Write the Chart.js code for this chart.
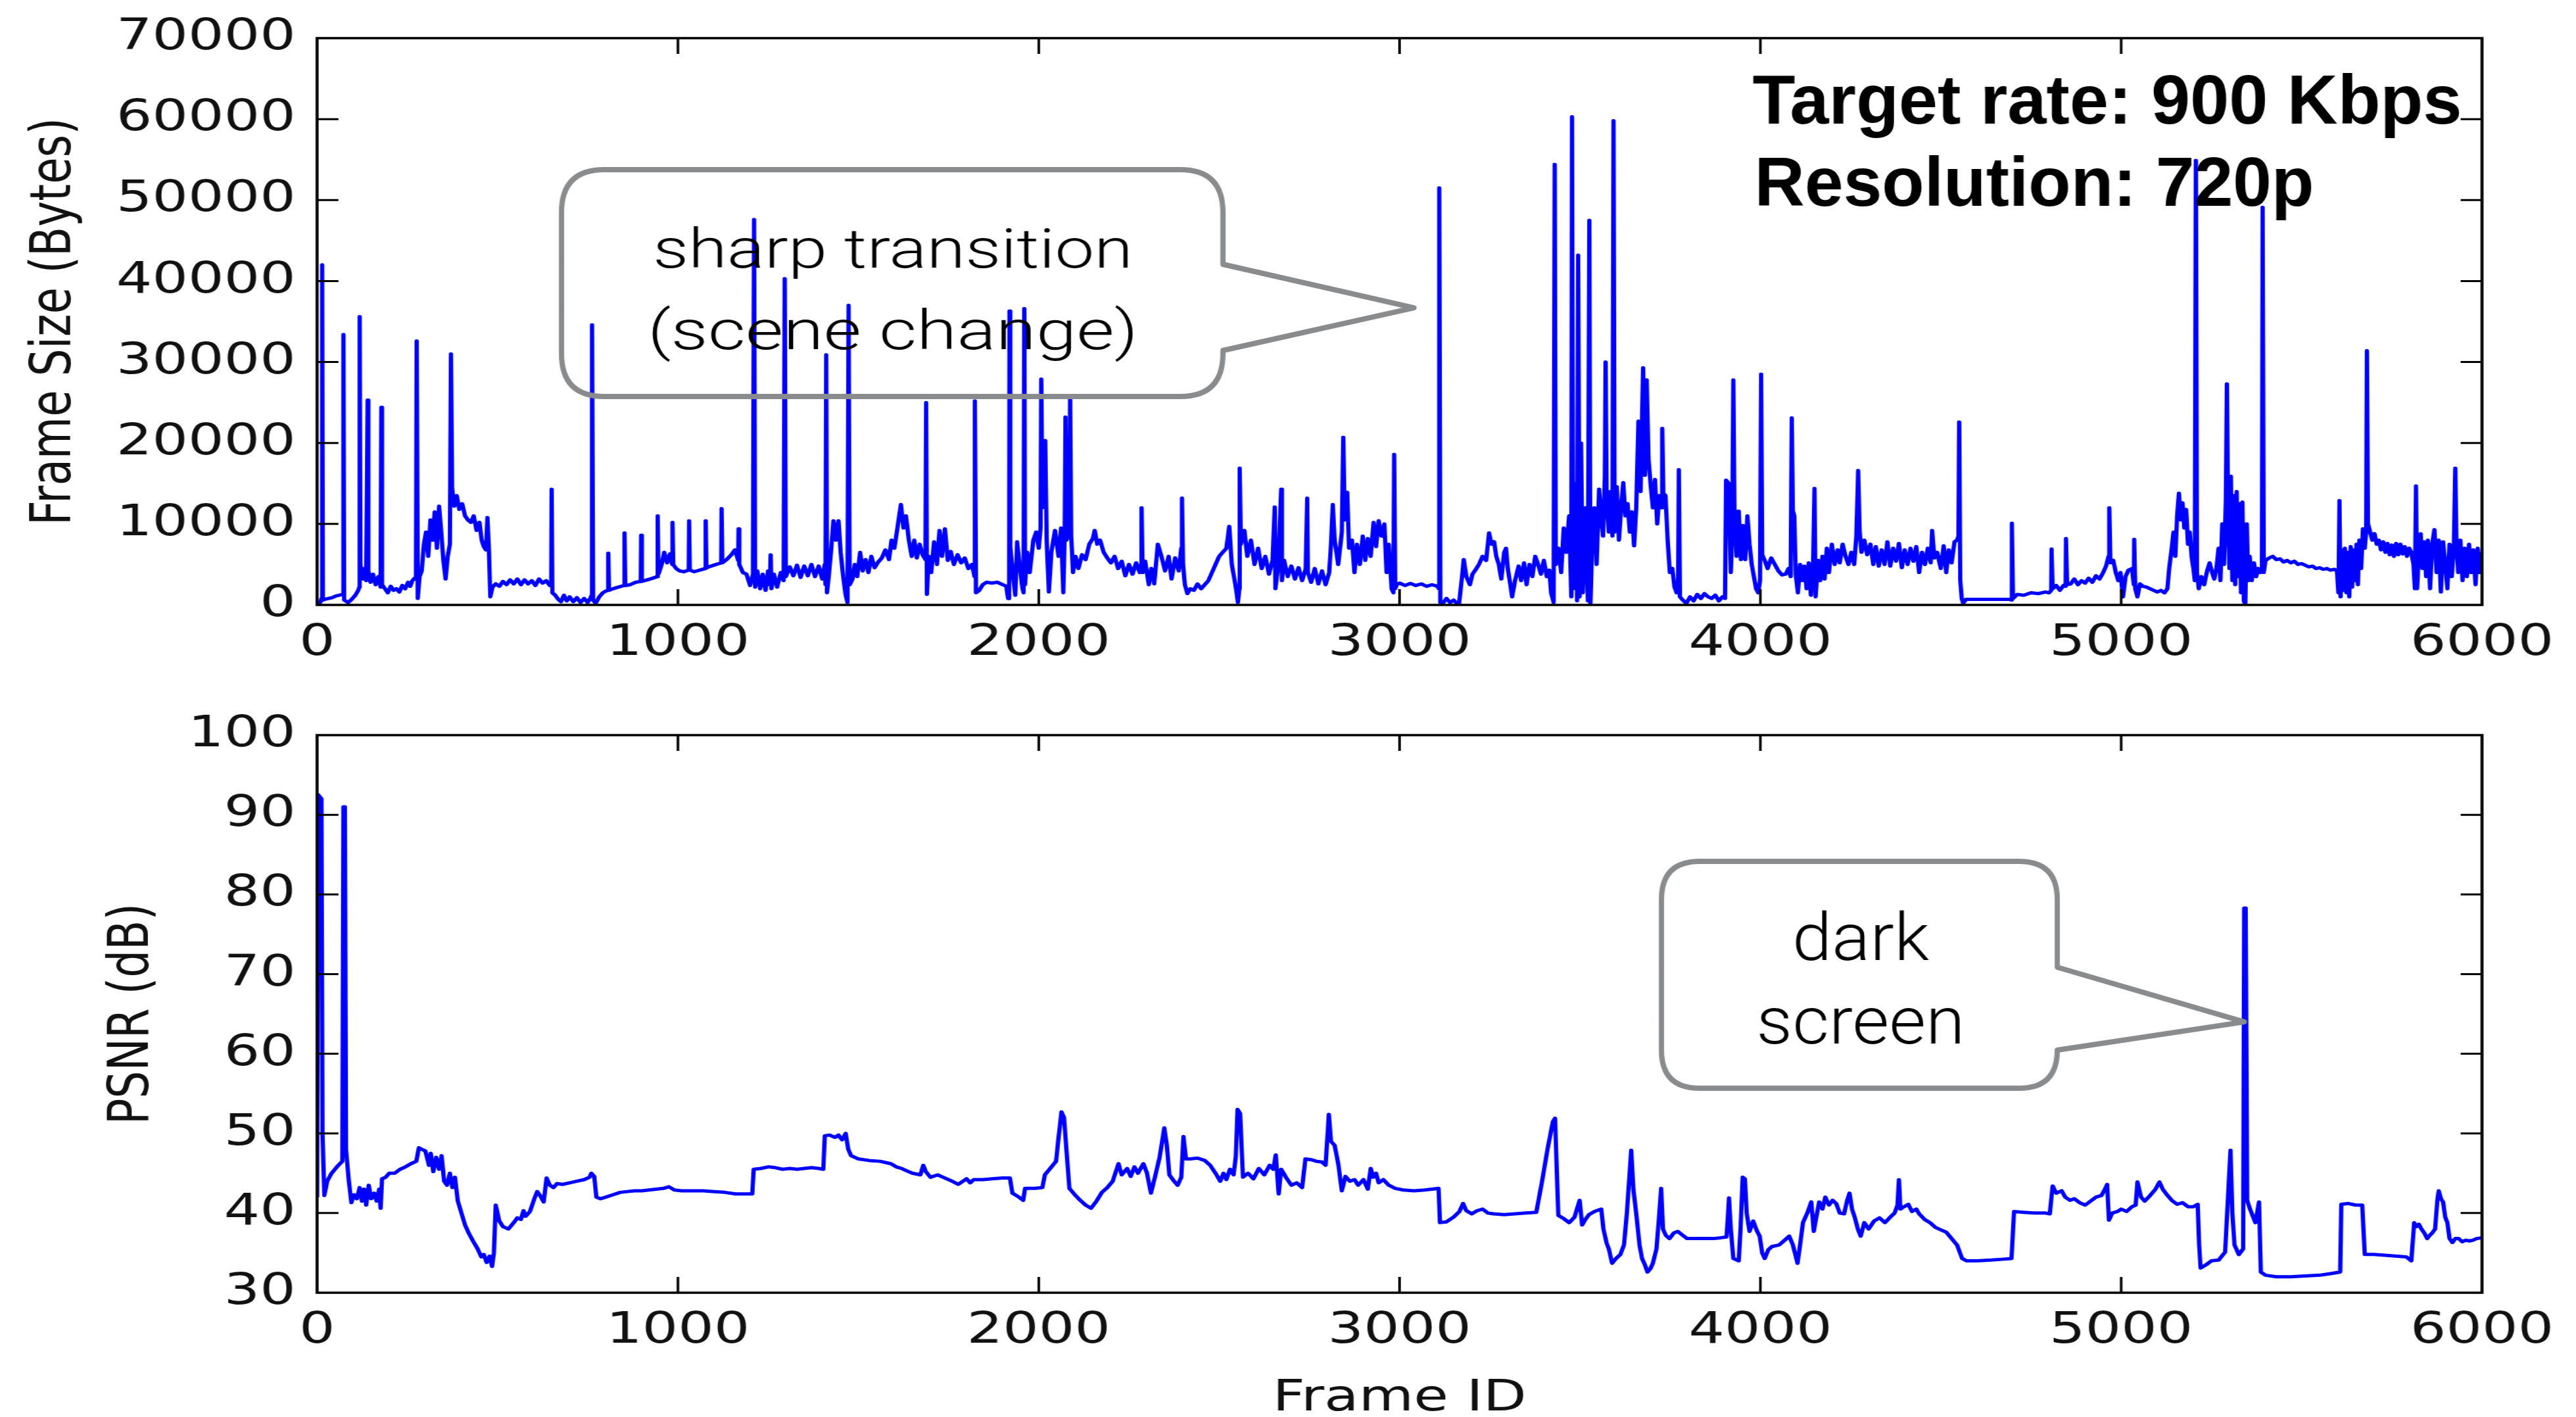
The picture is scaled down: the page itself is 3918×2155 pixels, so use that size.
<!DOCTYPE html>
<html lang="en">
<head>
<meta charset="UTF-8">
<title>Frame size and PSNR per frame</title>
<script src="https://cdn.jsdelivr.net/npm/chart.js"></script>
<style>
    body {
        margin: 0;
        background: #fff;
        width: 3918px;
        height: 2155px;
        overflow: hidden;
        position: relative;
    }
    canvas {
        position: absolute;
        left: 0;
    }
</style>
</head>
<body>
<canvas id="sizeChart" width="3014" height="1060" style="top:0;width:3918px;height:1060px"></canvas>
<canvas id="psnrChart" width="3014" height="1095" style="top:1060px;width:3918px;height:1095px"></canvas>
<script>
// [frame id, frame size in bytes]
const sizeSeries = [
    [0,300],[6,200],[10,400],[12,800],[14,42000],[16,600],[22,700],[32,800],[42,900],[52,1100],[62,1200],[70,1300],
    [72,1300],[73,33400],[75,600],[86,300],[96,700],[106,1200],[114,1800],[117,2200],[118,35600],[120,5000],
    [126,3200],[132,4500],[136,3000],[140,25300],[142,4200],[148,2800],[155,3800],[162,2500],[170,3500],[176,2200],
    [178,24400],[180,2500],[188,2000],[196,1500],[204,2300],[212,1800],[220,2000],[228,1600],[236,2400],[244,2000],
    [252,2800],[258,2300],[264,3000],[270,3300],[274,3200],[276,32600],[279,800],[284,3500],[290,4200],[296,7500],
    [302,9000],[308,6000],[314,10500],[320,8000],[326,11500],[332,7000],[338,12200],[344,9000],[350,5500],[356,3200],
    [362,6000],[368,7500],[371,31000],[374,14500],[380,12200],[387,13500],[394,11800],[402,12500],[410,11000],
    [418,10500],[426,10200],[434,11000],[442,9200],[450,10200],[456,8000],[462,7200],[468,6800],[472,10800],
    [476,7000],[480,1000],[486,2200],[495,2600],[505,2300],[515,2900],[525,2500],[535,3100],[545,2600],[555,3200],
    [565,2500],[575,3100],[585,2600],[595,3000],[605,2400],[615,3200],[625,2700],[635,3000],[645,2400],[649,2600],
    [650,14300],[652,1500],[660,1200],[668,700],[676,400],[684,1200],[692,500],[700,1000],[710,400],[720,900],
    [730,300],[740,800],[750,300],[758,900],[761,1200],[762,34600],[765,600],[772,200],[782,1000],[792,1500],
    [800,1700],[806,1800],[807,6400],[809,1800],[820,2000],[835,2200],[851,2400],[852,8900],[854,2400],[868,2500],
    [883,2800],[897,2900],[898,8600],[900,2900],[915,3100],[930,3300],[943,3500],[944,11000],[946,3800],[955,5000],
    [962,6500],[970,5200],[978,6300],[984,5000],[985,10200],[987,5000],[995,4500],[1005,4200],[1017,4100],
    [1030,4300],[1031,10400],[1033,4300],[1045,4100],[1060,4300],[1076,4500],[1077,10400],[1079,4600],[1092,4800],
    [1106,5000],[1120,5200],[1121,11900],[1123,5200],[1135,5600],[1148,6200],[1158,6800],[1167,5500],[1168,9400],
    [1170,5000],[1180,4000],[1190,3800],[1200,2400],[1208,3800],[1211,47600],[1214,2200],[1220,4200],[1228,2000],
    [1235,3800],[1243,1800],[1250,4200],[1255,2500],[1257,6200],[1259,2000],[1266,3800],[1275,2200],[1285,4000],
    [1293,3000],[1296,40300],[1299,3500],[1310,4700],[1320,3600],[1330,4900],[1340,3400],[1350,4800],[1360,3600],
    [1370,5000],[1380,3500],[1390,4800],[1400,3200],[1407,5000],[1409,2500],[1411,30900],[1413,1500],[1418,3500],
    [1425,7000],[1431,10400],[1438,8000],[1445,10400],[1451,6500],[1458,3500],[1465,1200],[1470,300],[1473,37000],
    [1476,2500],[1484,3200],[1490,5000],[1497,3500],[1505,6500],[1512,4200],[1520,5600],[1528,4000],[1536,6000],
    [1545,4600],[1555,5300],[1565,5800],[1575,6800],[1585,5600],[1592,8000],[1600,7000],[1610,10000],[1618,12400],
    [1625,9500],[1632,11000],[1640,8000],[1648,6000],[1655,8000],[1662,5800],[1670,7500],[1678,6200],[1686,5600],
    [1688,25000],[1690,1300],[1695,6000],[1702,4000],[1710,7800],[1718,5000],[1725,9200],[1732,6000],[1740,9400],
    [1748,5500],[1756,6600],[1765,5000],[1775,6200],[1785,5200],[1795,5800],[1805,4500],[1815,5000],[1822,3500],
    [1823,25200],[1826,1500],[1835,1800],[1845,2500],[1855,2800],[1870,2700],[1885,2800],[1900,2500],[1910,2300],
    [1915,800],[1918,800],[1919,36300],[1921,7200],[1928,4000],[1935,1200],[1940,7800],[1948,4500],[1955,2000],
    [1958,1500],[1960,36600],[1962,2500],[1968,6500],[1975,4000],[1985,8000],[1993,9000],[2000,7000],[2005,9500],
    [2007,27900],[2010,12000],[2018,20300],[2022,8000],[2028,1600],[2035,6500],[2045,9200],[2055,6000],[2062,9500],
    [2068,1500],[2072,9000],[2074,23200],[2077,8000],[2085,9000],[2087,25800],[2090,8500],[2095,4000],[2102,6000],
    [2110,4500],[2120,6200],[2130,5600],[2140,7500],[2150,8200],[2155,9200],[2162,7500],[2170,8000],[2180,6500],
    [2190,5800],[2200,5200],[2210,6000],[2220,4500],[2230,5400],[2240,3600],[2250,5000],[2260,3800],[2270,5200],
    [2280,4000],[2284,5000],[2285,12000],[2288,4000],[2295,5400],[2305,2500],[2312,4500],[2320,2600],[2330,7500],
    [2340,6000],[2350,4200],[2360,6000],[2368,3200],[2378,5800],[2388,4200],[2395,7000],[2397,13200],[2400,5000],
    [2405,2500],[2412,1400],[2420,2000],[2430,1800],[2440,2600],[2450,2000],[2460,2500],[2470,3000],[2480,4000],
    [2490,5000],[2500,6000],[2510,6500],[2520,7000],[2528,9700],[2535,5000],[2545,2500],[2552,300],[2556,2000],
    [2557,16900],[2560,7500],[2570,9200],[2578,6000],[2588,8000],[2598,5000],[2608,7000],[2618,4500],[2628,6000],
    [2638,3800],[2648,5500],[2654,12100],[2656,2000],[2664,5000],[2672,14300],[2674,3000],[2680,5500],[2690,3500],
    [2700,4800],[2710,3200],[2720,4600],[2730,3000],[2740,4500],[2744,13200],[2746,4000],[2755,2800],[2765,4500],
    [2775,2600],[2785,4200],[2795,2500],[2805,4000],[2810,7500],[2815,12400],[2820,8000],[2830,5000],[2840,9000],
    [2844,20700],[2848,10500],[2855,13900],[2860,7000],[2868,8000],[2875,4000],[2882,7500],[2890,5000],[2898,8500],
    [2905,5500],[2912,8200],[2920,6000],[2928,10200],[2935,7200],[2942,10400],[2950,8500],[2958,10000],[2964,4000],
    [2970,7500],[2978,2000],[2983,1500],[2985,18600],[2988,2000],[2992,2500],[3000,2700],[3015,2400],[3030,2650],
    [3045,2400],[3060,2600],[3075,2300],[3090,2500],[3105,2300],[3109,2000],[3110,51500],[3113,300],[3120,200],
    [3130,800],[3140,300],[3150,600],[3160,100],[3165,200],[3172,3000],[3178,5600],[3185,3500],[3195,2500],
    [3202,3800],[3210,4300],[3220,5000],[3230,6000],[3240,5500],[3248,8900],[3255,7500],[3262,7800],[3268,6000],
    [3275,5000],[3282,3200],[3290,6500],[3295,7000],[3300,4500],[3307,2500],[3312,1000],[3320,3000],[3330,4800],
    [3337,3000],[3345,5200],[3352,2500],[3360,5000],[3368,3500],[3376,6000],[3384,5000],[3392,3800],[3400,5500],
    [3408,3500],[3415,4300],[3420,1500],[3427,300],[3430,54400],[3433,5000],[3440,7000],[3448,4000],[3455,9500],
    [3462,6500],[3470,11000],[3476,1000],[3478,60300],[3481,2000],[3488,15000],[3492,500],[3495,43200],[3499,1000],
    [3503,20000],[3508,1500],[3515,12000],[3522,500],[3526,47500],[3529,100],[3534,8000],[3540,12000],[3546,5000],
    [3553,14300],[3558,11000],[3564,8500],[3569,16000],[3571,30000],[3574,13000],[3580,9000],[3585,14000],
    [3590,8500],[3593,59800],[3596,9000],[3602,14600],[3608,8000],[3614,12000],[3620,15100],[3626,11000],
    [3632,12500],[3638,9000],[3644,11500],[3650,7300],[3656,12000],[3662,22700],[3668,14000],[3675,29300],
    [3680,16000],[3685,27800],[3690,18000],[3696,14800],[3702,12000],[3708,15500],[3714,10000],[3720,13500],
    [3726,12000],[3728,21800],[3731,13800],[3737,13500],[3743,8000],[3749,4000],[3756,4500],[3762,2200],[3768,1500],
    [3772,2000],[3774,16700],[3777,1000],[3785,600],[3795,200],[3805,1000],[3815,500],[3825,1300],[3835,800],
    [3845,1400],[3855,1000],[3865,800],[3875,1200],[3885,500],[3895,1000],[3902,800],[3905,15400],[3912,15000],
    [3918,4000],[3922,9000],[3925,27800],[3928,12000],[3934,6000],[3940,11600],[3946,5600],[3952,9800],[3958,5600],
    [3964,11000],[3970,7500],[3976,5000],[3982,3500],[3988,2000],[3994,1500],[3999,3000],[4002,28500],[4005,6200],
    [4012,5500],[4020,4500],[4030,5800],[4040,5000],[4050,4200],[4060,3700],[4070,3800],[4078,4500],[4084,3500],
    [4087,23100],[4090,11600],[4094,11000],[4098,3800],[4104,1500],[4110,5000],[4116,3000],[4122,4800],[4128,2000],
    [4134,5200],[4140,1200],[4146,4500],[4150,14400],[4153,1000],[4160,5500],[4166,3000],[4172,6000],[4178,3200],
    [4184,7000],[4190,4000],[4198,7500],[4206,5000],[4214,6800],[4220,5200],[4228,7500],[4236,6000],[4244,5000],
    [4252,6500],[4260,5000],[4266,8500],[4271,16600],[4275,9200],[4280,6500],[4288,8000],[4296,6200],[4305,7500],
    [4313,5000],[4320,7200],[4328,4800],[4336,6800],[4344,5000],[4352,7800],[4360,4800],[4368,7000],[4376,5400],
    [4384,7600],[4392,4600],[4400,6800],[4408,5000],[4416,7000],[4424,5400],[4432,7200],[4440,4000],[4448,6500],
    [4456,5000],[4464,7000],[4472,5200],[4476,9200],[4482,5800],[4490,6500],[4500,4500],[4508,7300],[4515,4000],
    [4522,6800],[4530,5200],[4538,7800],[4545,8000],[4549,8500],[4551,22600],[4554,3000],[4558,800],[4562,200],
    [4570,700],[4600,700],[4640,700],[4670,700],[4690,700],[4696,600],[4697,10100],[4700,800],[4712,1300],
    [4730,1200],[4750,1500],[4770,1400],[4790,1600],[4800,1500],[4806,1800],[4807,6900],[4810,2000],[4820,2400],
    [4830,1800],[4840,2400],[4846,2300],[4847,8200],[4850,2500],[4860,2600],[4870,3200],[4880,2500],[4890,3000],
    [4900,2700],[4910,3300],[4920,2800],[4930,3600],[4940,3200],[4950,4000],[4958,4800],[4965,6000],[4967,12000],
    [4970,5200],[4978,5500],[4985,4000],[4992,3000],[4998,4000],[5005,1000],[5012,3500],[5020,4300],[5030,4500],
    [5035,2500],[5036,8100],[5039,2000],[5045,1000],[5052,2600],[5060,2300],[5070,2200],[5080,2000],[5090,1800],
    [5100,1600],[5110,1800],[5120,1500],[5128,2000],[5133,4500],[5140,7000],[5145,9000],[5150,6000],[5155,11000],
    [5160,13800],[5165,10500],[5170,12600],[5175,9500],[5180,11800],[5185,7500],[5190,9000],[5195,6000],[5200,4500],
    [5204,3000],[5207,54900],[5210,4000],[5215,2000],[5222,3500],[5230,2500],[5238,4200],[5245,5200],[5252,4000],
    [5258,3200],[5264,4600],[5270,7000],[5275,3000],[5280,10000],[5285,5000],[5290,13000],[5293,27300],[5296,12000],
    [5300,4500],[5304,15900],[5308,3000],[5312,13500],[5316,2500],[5320,14000],[5324,3500],[5328,12500],[5332,1500],
    [5336,12700],[5340,500],[5344,0],[5348,10000],[5352,3000],[5356,6000],[5362,3000],[5368,5200],[5374,3500],
    [5380,4500],[5386,4000],[5390,4300],[5392,49100],[5395,4000],[5400,5500],[5410,5800],[5420,6000],[5430,5600],
    [5440,5700],[5450,5300],[5460,5500],[5470,5200],[5480,5400],[5490,5000],[5500,5100],[5510,4900],[5520,4700],
    [5530,4800],[5540,4500],[5550,4600],[5560,4400],[5570,4500],[5580,4300],[5590,4400],[5598,4200],[5602,1500],
    [5605,12900],[5608,1000],[5612,6800],[5616,1800],[5620,7000],[5624,1500],[5628,6500],[5632,1000],[5636,7200],
    [5640,2200],[5644,6800],[5648,3000],[5652,7500],[5656,2500],[5660,8000],[5665,4500],[5670,9400],[5675,7000],
    [5679,9000],[5681,31400],[5684,10000],[5690,9000],[5696,8000],[5702,8800],[5708,7500],[5714,8000],[5720,6800],
    [5726,7800],[5732,6500],[5738,7600],[5744,6200],[5750,7400],[5756,6000],[5762,7600],[5768,6200],[5774,7500],
    [5780,6300],[5786,7200],[5792,6000],[5798,7000],[5804,6500],[5810,5000],[5814,2000],[5817,14700],[5820,2000],
    [5825,6500],[5830,8800],[5835,4500],[5840,7800],[5845,3500],[5850,8000],[5856,2000],[5862,7500],[5868,9300],
    [5874,4000],[5880,8000],[5886,1600],[5892,7800],[5898,5000],[5904,2000],[5910,7500],[5916,3500],[5922,7200],
    [5926,16900],[5929,7800],[5934,4000],[5940,8000],[5946,3000],[5952,7000],[5958,3500],[5964,7500],[5970,4000],
    [5976,6800],[5982,2500],[5988,7000],[5994,4000],[6000,6500]
];

// [frame id, PSNR in dB]
const psnrSeries = [
    [0,42.0],[3,92.5],[12,92.0],[15,50.0],[20,42.2],[28,44.0],[40,45.0],[55,45.8],[70,46.5],[73,91.0],[77,91.0],
    [80,48.0],[88,44.0],[95,41.3],[102,42.3],[110,41.8],[118,43.2],[124,41.5],[130,43.0],[136,41.0],[143,43.5],
    [150,41.8],[158,42.5],[165,41.5],[172,43.0],[176,40.6],[180,44.3],[190,44.5],[200,45.0],[215,45.0],[230,45.5],
    [245,45.8],[260,46.2],[275,46.5],[282,48.2],[290,48.0],[300,47.8],[310,46.0],[315,47.5],[322,45.2],[330,47.0],
    [338,45.5],[345,47.2],[352,44.0],[360,43.5],[368,45.0],[375,43.2],[382,44.5],[390,41.5],[400,40.0],[410,38.5],
    [420,37.5],[432,36.5],[445,35.5],[455,34.5],[462,34.8],[470,33.8],[478,34.6],[485,33.3],[490,35.0],[495,41.0],
    [505,39.0],[515,38.3],[530,38.0],[545,38.8],[555,39.4],[565,39.2],[572,40.3],[578,39.6],[590,40.2],[602,41.8],
    [610,42.7],[618,42.2],[628,41.4],[636,44.4],[645,43.5],[655,43.2],[665,43.7],[680,43.6],[700,43.8],[720,44.0],
    [740,44.2],[755,44.5],[760,45.0],[768,44.6],[774,42.0],[785,41.8],[800,42.0],[820,42.3],[840,42.6],[860,42.7],
    [880,42.8],[900,42.8],[920,42.9],[940,43.0],[960,43.1],[975,43.3],[990,42.9],[1010,42.8],[1040,42.8],
    [1070,42.8],[1100,42.7],[1130,42.6],[1160,42.4],[1190,42.4],[1206,42.4],[1210,45.5],[1230,45.6],[1250,45.8],
    [1270,45.7],[1290,45.5],[1310,45.6],[1330,45.5],[1350,45.6],[1370,45.7],[1390,45.6],[1403,45.5],[1407,49.7],
    [1420,49.8],[1435,49.5],[1445,49.8],[1455,49.2],[1465,50.0],[1472,48.0],[1480,47.2],[1500,46.8],[1530,46.6],
    [1560,46.5],[1590,46.2],[1605,45.8],[1620,45.6],[1634,45.3],[1650,45.0],[1672,44.8],[1680,46.0],[1687,45.2],
    [1700,44.5],[1720,44.8],[1740,44.4],[1760,44.0],[1777,43.6],[1790,44.0],[1800,44.3],[1810,43.8],[1820,44.2],
    [1845,44.2],[1870,44.3],[1900,44.4],[1920,44.4],[1927,42.5],[1945,42.0],[1957,41.6],[1962,43.1],[1990,43.1],
    [2010,43.2],[2017,44.8],[2030,45.5],[2048,46.5],[2055,49.5],[2063,52.7],[2070,52.0],[2080,46.0],[2085,43.1],
    [2100,42.3],[2115,41.6],[2130,41.0],[2145,40.6],[2160,41.5],[2175,42.6],[2190,43.2],[2205,44.0],[2221,46.2],
    [2230,44.8],[2245,45.6],[2255,44.6],[2265,45.8],[2275,45.0],[2290,46.2],[2300,45.0],[2311,42.5],[2322,44.5],
    [2335,47.0],[2348,50.7],[2355,48.5],[2362,44.8],[2375,44.0],[2385,43.5],[2395,44.5],[2401,49.6],[2408,46.8],
    [2420,46.8],[2440,46.9],[2460,46.6],[2475,46.0],[2490,45.0],[2503,44.0],[2512,45.0],[2520,44.2],[2530,45.5],
    [2540,44.8],[2546,47.0],[2551,53.0],[2558,52.5],[2566,44.5],[2580,45.0],[2595,44.3],[2610,45.6],[2625,44.8],
    [2640,46.0],[2650,45.5],[2657,47.3],[2665,42.4],[2672,45.5],[2685,44.5],[2700,43.5],[2715,43.8],[2730,43.2],
    [2739,46.8],[2755,46.7],[2770,46.5],[2785,46.4],[2795,46.0],[2804,52.4],[2810,49.0],[2820,48.5],[2830,46.2],
    [2840,42.8],[2850,44.6],[2862,44.0],[2875,44.2],[2885,43.5],[2900,44.2],[2912,43.0],[2920,45.6],[2927,44.5],
    [2935,45.0],[2942,43.8],[2955,44.2],[2970,43.5],[2988,43.1],[3010,42.9],[3040,42.8],[3070,42.9],[3090,43.0],
    [3108,43.1],[3112,38.8],[3130,38.9],[3150,39.5],[3166,40.2],[3176,41.2],[3185,40.3],[3200,39.9],[3215,40.3],
    [3230,40.5],[3245,40.0],[3260,39.9],[3290,39.8],[3320,39.9],[3350,40.0],[3379,40.1],[3395,44.0],[3410,48.0],
    [3425,51.5],[3431,51.9],[3436,45.0],[3440,39.7],[3455,39.3],[3470,38.8],[3485,39.5],[3499,41.6],[3506,38.5],
    [3515,39.2],[3525,39.8],[3540,40.2],[3559,40.5],[3565,38.0],[3574,36.2],[3580,35.5],[3589,33.7],[3600,34.3],
    [3612,34.8],[3622,36.0],[3630,40.0],[3642,47.9],[3648,43.0],[3656,39.9],[3665,36.0],[3672,34.3],[3680,33.5],
    [3687,32.6],[3695,33.0],[3702,33.7],[3712,35.5],[3720,40.0],[3725,43.1],[3730,38.0],[3738,37.2],[3748,36.8],
    [3760,37.5],[3771,37.7],[3785,37.2],[3797,36.8],[3815,36.8],[3842,36.8],[3870,36.8],[3890,36.9],[3906,37.0],
    [3910,39.5],[3913,41.9],[3918,38.0],[3925,34.3],[3940,34.0],[3945,38.0],[3951,44.5],[3957,44.3],[3962,40.0],
    [3970,37.7],[3980,39.0],[3990,37.8],[3998,37.1],[4005,35.0],[4012,34.3],[4022,35.4],[4032,35.8],[4052,36.0],
    [4065,36.5],[4080,37.1],[4090,36.0],[4103,33.7],[4110,36.0],[4118,38.8],[4130,40.0],[4141,41.4],[4148,37.7],
    [4155,39.5],[4163,41.4],[4172,40.5],[4180,42.0],[4190,41.0],[4200,41.6],[4210,41.2],[4220,40.0],[4232,39.9],
    [4240,41.5],[4247,42.5],[4254,40.5],[4262,39.4],[4270,38.0],[4278,37.1],[4288,38.8],[4300,38.0],[4315,39.0],
    [4330,39.4],[4345,38.8],[4360,39.5],[4372,40.0],[4380,41.0],[4384,44.2],[4388,40.5],[4398,40.8],[4410,41.1],
    [4420,40.2],[4432,40.5],[4440,39.9],[4455,39.2],[4470,38.8],[4485,38.2],[4500,37.9],[4515,37.6],[4530,36.8],
    [4545,36.0],[4559,34.3],[4572,34.0],[4600,34.0],[4640,34.1],[4670,34.2],[4696,34.3],[4703,40.2],[4730,40.1],
    [4760,40.0],[4790,40.0],[4802,39.9],[4810,43.4],[4820,42.5],[4835,42.8],[4845,42.0],[4858,41.6],[4870,41.8],
    [4885,41.3],[4900,41.0],[4915,41.5],[4930,42.0],[4945,42.2],[4955,43.0],[4961,43.6],[4966,39.1],[4975,40.0],
    [4990,40.2],[5000,40.5],[5015,40.2],[5030,40.8],[5040,41.0],[5045,43.9],[5055,42.0],[5065,41.5],[5080,42.2],
    [5095,43.0],[5106,43.9],[5115,43.0],[5125,42.4],[5140,41.6],[5155,41.1],[5170,41.3],[5185,40.8],[5200,40.8],
    [5212,41.1],[5216,36.0],[5220,33.1],[5235,33.5],[5250,34.0],[5270,34.1],[5288,35.1],[5296,42.0],[5303,47.9],
    [5308,40.0],[5314,36.0],[5326,34.8],[5338,35.5],[5341,78.3],[5345,78.3],[5349,41.6],[5357,40.5],[5372,38.8],
    [5382,41.4],[5387,32.6],[5400,32.2],[5430,32.0],[5470,32.0],[5510,32.1],[5550,32.2],[5580,32.4],[5607,32.6],
    [5610,41.1],[5630,41.2],[5650,41.0],[5668,41.0],[5675,34.8],[5700,34.8],[5730,34.7],[5760,34.6],[5790,34.5],
    [5804,34.0],[5812,38.8],[5818,38.3],[5825,38.6],[5832,38.0],[5840,37.5],[5848,36.8],[5855,37.2],[5862,37.5],
    [5870,38.0],[5876,41.5],[5880,42.8],[5886,41.8],[5892,41.4],[5898,39.5],[5904,38.8],[5910,36.8],[5918,36.3],
    [5926,36.8],[5935,36.8],[5945,36.4],[5955,36.6],[5965,36.5],[5975,36.6],[5985,36.8],[6000,36.9]
];

const frameRange = [0, 6000, 1000];      // min, max, step
const sizeRange = [0, 70000, 10000];
const psnrRange = [30, 100, 10];

// the whole figure is stretched sideways, canvases are drawn narrower and widened by css
const S = 3918 / 3014;
const axisFont = { family: 'DejaVu Sans', size: 66, lineHeight: 1 };
const ink = '#111';

const framePlugin = {
    id: 'frame',
    afterDatasetsDraw(chart) {
        const { ctx, chartArea: a, scales: { x, y } } = chart;
        ctx.save();
        ctx.strokeStyle = '#000';
        ctx.lineWidth = 3;
        ctx.beginPath();
        x.ticks.forEach(t => {
            const px = x.getPixelForValue(t.value);
            if (px <= a.left + 2 || px >= a.right - 2) return;
            ctx.moveTo(px, a.bottom); ctx.lineTo(px, a.bottom - 24);
            ctx.moveTo(px, a.top); ctx.lineTo(px, a.top + 24);
        });
        y.ticks.forEach(t => {
            const py = y.getPixelForValue(t.value);
            if (py <= a.top + 2 || py >= a.bottom - 2) return;
            ctx.moveTo(a.left, py); ctx.lineTo(a.left + 25, py);
            ctx.moveTo(a.right, py); ctx.lineTo(a.right - 25, py);
        });
        ctx.stroke();
        ctx.lineWidth = 3.5;
        ctx.strokeRect(a.left, a.top, a.right - a.left, a.bottom - a.top);
        ctx.restore();
    }
};

// text squeezed or widened to a measured width
function fitText(ctx, text, cx, baseY, font, width) {
    ctx.font = font;
    const w = ctx.measureText(text).width;
    ctx.save();
    ctx.translate(cx, baseY);
    ctx.scale(width / w, 1);
    ctx.textAlign = 'center';
    ctx.textBaseline = 'alphabetic';
    ctx.fillText(text, 0, 0);
    ctx.restore();
}

function callout(ctx, l, t, r, b, rad, j1, j2, tipX, tipY) {
    ctx.beginPath();
    ctx.moveTo(l + rad, t);
    ctx.lineTo(r - rad, t);
    ctx.quadraticCurveTo(r, t, r, t + rad);
    ctx.lineTo(r, j1);
    ctx.lineTo(tipX, tipY);
    ctx.lineTo(r, j2);
    ctx.lineTo(r, b - rad);
    ctx.quadraticCurveTo(r, b, r - rad, b);
    ctx.lineTo(l + rad, b);
    ctx.quadraticCurveTo(l, b, l, b - rad);
    ctx.lineTo(l, t + rad);
    ctx.quadraticCurveTo(l, t, l + rad, t);
    ctx.closePath();
    ctx.strokeStyle = '#8a8b8d';
    ctx.lineWidth = 8;
    ctx.lineJoin = 'round';
    ctx.stroke();
}

const sizeNotes = {
    id: 'sizeNotes',
    afterDraw(chart) {
        const { ctx, scales: { x, y } } = chart;
        ctx.save();
        ctx.scale(1 / S, 1);
        callout(ctx, 854, 258, 1860, 603, 65, 402, 533,
            x.getPixelForValue(3040) * S, y.getPixelForValue(36700));
        ctx.fillStyle = '#000';
        fitText(ctx, 'sharp transition', 1358, 407, '300 84px Roboto', 730);
        fitText(ctx, '(scene change)', 1358, 531, '300 84px Roboto', 746);
        fitText(ctx, 'Target rate: 900 Kbps', 2665 + 540, 188, 'bold 106px "Liberation Sans"', 1079);
        fitText(ctx, 'Resolution: 720p', 2669 + 425, 313, 'bold 106px "Liberation Sans"', 851);
        ctx.restore();
    }
};

const psnrNotes = {
    id: 'psnrNotes',
    afterDraw(chart) {
        const { ctx, scales: { x, y } } = chart;
        ctx.save();
        ctx.scale(1 / S, 1);
        callout(ctx, 2527, 250, 3129, 595, 58, 411, 537,
            x.getPixelForValue(5341) * S, y.getPixelForValue(64));
        ctx.fillStyle = '#000';
        fitText(ctx, 'dark', 2830, 400, '300 100px Roboto', 208);
        fitText(ctx, 'screen', 2830, 527, '300 100px Roboto', 317);
        ctx.restore();
    }
};

function makeChart(id, series, yRange, yTitle, yTitlePad, xTitle, pad, xHeight, notes) {
    return new Chart(document.getElementById(id), {
        type: 'line',
        data: {
            datasets: [{
                data: series.map(p => ({ x: p[0], y: p[1] })),
                borderColor: '#0000ff',
                borderWidth: 5,
                borderJoinStyle: 'round',
                pointRadius: 0,
                tension: 0,
                fill: false
            }]
        },
        options: {
            responsive: false,
            animation: false,
            devicePixelRatio: 1,
            events: [],
            layout: { padding: { top: pad, right: 99, bottom: 0, left: 0 } },
            plugins: { legend: { display: false }, tooltip: { enabled: false } },
            scales: {
                x: {
                    type: 'linear',
                    min: frameRange[0], max: frameRange[1],
                    grid: { display: false, drawTicks: false },
                    border: { display: false },
                    ticks: { stepSize: frameRange[2], autoSkip: false, maxRotation: 0, padding: 26,
                        color: ink, font: axisFont, callback: v => String(v) },
                    title: { display: !!xTitle, text: xTitle, color: ink, font: axisFont,
                        padding: { top: 0, bottom: -6 } },
                    afterFit(scale) { scale.height = xHeight; }
                },
                y: {
                    min: yRange[0], max: yRange[1],
                    grid: { display: false, drawTicks: false },
                    border: { display: false },
                    ticks: { stepSize: yRange[2], autoSkip: false, padding: 25,
                        color: ink, font: axisFont, callback: v => String(v) },
                    title: { display: true, text: yTitle, color: ink, font: axisFont,
                        padding: { top: yTitlePad, bottom: 0 } },
                    afterFit(scale) { scale.width = 371; }
                }
            }
        },
        plugins: [framePlugin, notes]
    });
}

makeChart('sizeChart', sizeSeries, sizeRange, 'Frame Size (Bytes)', 32, '', 50, 140, sizeNotes);
makeChart('psnrChart', psnrSeries, psnrRange, 'PSNR (dB)', 123, 'Frame ID', 34, 189, psnrNotes);
</script>
</body>
</html>
